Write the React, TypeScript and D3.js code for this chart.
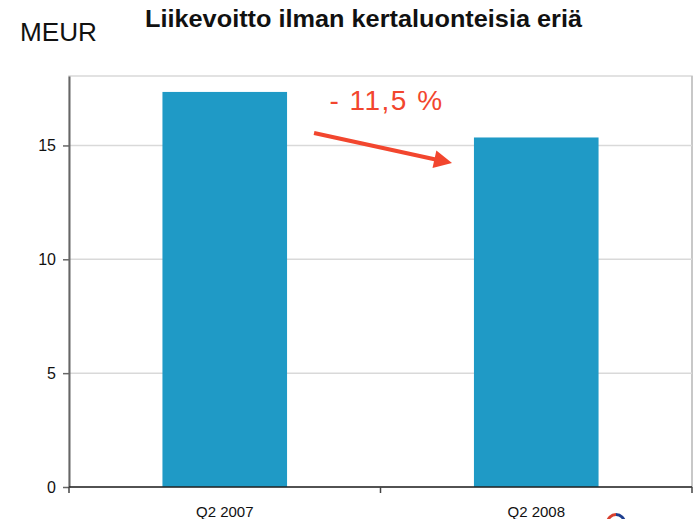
import React, { useEffect, useRef } from "react";
import * as d3 from "d3";

const categories = ["Q2 2007", "Q2 2008"];
const values = [17.35, 15.35];
const yTicks = [0, 5, 10, 15];
const changeLabel = "- 11,5 %";

const width = 697;
const height = 519;
const margin = { top: 76, right: 5, bottom: 32, left: 69 };
const barColor = "#1f9ac6";
const red = "#f2462e";

const App = () => {
  const chartRef = useRef<SVGGElement>(null);

  useEffect(() => {
    const svg = d3.select(chartRef.current);
    svg.selectAll("*").remove();

    const innerW = width - margin.left - margin.right;
    const innerH = height - margin.top - margin.bottom;

    const x = d3
      .scaleBand()
      .domain(categories)
      .range([0, innerW])
      .paddingInner(0.6)
      .paddingOuter(0.3);

    const y = d3.scaleLinear().domain([0, 18.05]).range([innerH, 0]);

    const g = svg
      .append("g")
      .attr("transform", `translate(${margin.left},${margin.top})`);

    // frame
    g.append("rect")
      .attr("width", innerW)
      .attr("height", innerH)
      .attr("fill", "none")
      .attr("stroke", "#d9d9d9")
      .attr("stroke-width", 1.5);
    g.append("line")
      .attr("x1", innerW)
      .attr("x2", innerW)
      .attr("y1", 0)
      .attr("y2", innerH)
      .attr("stroke", "#bfbfbf")
      .attr("stroke-width", 1.5);

    // gridlines
    g.selectAll(".grid")
      .data(yTicks.filter((t) => t > 0))
      .enter()
      .append("line")
      .attr("x1", 0)
      .attr("x2", innerW)
      .attr("y1", (d) => y(d))
      .attr("y2", (d) => y(d))
      .attr("stroke", "#d9d9d9")
      .attr("stroke-width", 1.5);

    // bars
    g.selectAll(".bar")
      .data(values)
      .enter()
      .append("rect")
      .attr("x", (_, i) => x(categories[i])!)
      .attr("width", x.bandwidth())
      .attr("y", (d) => y(d))
      .attr("height", (d) => innerH - y(d))
      .attr("fill", barColor);

    // y axis
    const yAxis = g
      .append("g")
      .call(
        d3.axisLeft(y).tickValues(yTicks).tickSize(6).tickSizeOuter(0).tickPadding(7)
      );
    yAxis.select(".domain").attr("stroke", "#666").attr("stroke-width", 2);
    yAxis.selectAll(".tick line").attr("stroke", "#666").attr("stroke-width", 1.5);
    yAxis
      .selectAll("text")
      .attr("font-family", "Liberation Sans, Arial, sans-serif")
      .attr("font-size", 16)
      .attr("fill", "#111");

    // x axis: ticks at category boundaries, labels centred
    const step = x.step();
    const xAxisG = g.append("g").attr("transform", `translate(0,${innerH})`);
    xAxisG
      .append("line")
      .attr("x1", 0)
      .attr("x2", innerW)
      .attr("stroke", "#222")
      .attr("stroke-width", 1.5);
    xAxisG
      .selectAll(".xt")
      .data(d3.range(categories.length + 1))
      .enter()
      .append("line")
      .attr("x1", (i) => Math.min(i * step, innerW))
      .attr("x2", (i) => Math.min(i * step, innerW))
      .attr("y1", 0)
      .attr("y2", 6)
      .attr("stroke", "#444")
      .attr("stroke-width", 1.5);
    xAxisG
      .selectAll(".xl")
      .data(categories)
      .enter()
      .append("text")
      .attr("x", (d) => x(d)! + x.bandwidth() / 2)
      .attr("y", 30)
      .attr("text-anchor", "middle")
      .attr("font-family", "Liberation Sans, Arial, sans-serif")
      .attr("font-size", 15)
      .attr("fill", "#111")
      .text((d) => d);

    // change annotation
    const x0 = x(categories[0])! + x.bandwidth();
    const x1 = x(categories[1])!;
    svg
      .append("text")
      .attr("x", margin.left + (x0 + x1) / 2 + 6)
      .attr("y", 110)
      .attr("text-anchor", "middle")
      .attr("font-family", "Liberation Sans, Arial, sans-serif")
      .attr("font-size", 28)
      .attr("letter-spacing", 1.5)
      .attr("fill", red)
      .text(changeLabel);

    const defs = svg.append("defs");
    defs
      .append("marker")
      .attr("id", "ah")
      .attr("viewBox", "0 0 10 10")
      .attr("refX", 2)
      .attr("refY", 5)
      .attr("markerWidth", 5)
      .attr("markerHeight", 4.5)
      .attr("orient", "auto")
      .append("path")
      .attr("d", "M0,0 L10,5 L0,10 Z")
      .attr("fill", red);

    svg
      .append("line")
      .attr("x1", margin.left + x0 + 27)
      .attr("y1", 133)
      .attr("x2", margin.left + x1 - 36)
      .attr("y2", 160)
      .attr("stroke", red)
      .attr("stroke-width", 4)
      .attr("marker-end", "url(#ah)");

    // partial logo in the corner
    const arc = d3.arc();
    const logo = svg.append("g").attr("transform", "translate(616,523)");
    logo
      .append("path")
      .attr(
        "d",
        arc({ innerRadius: 7, outerRadius: 10, startAngle: -Math.PI / 2, endAngle: 0 }) as string
      )
      .attr("fill", "#d8402f");
    logo
      .append("path")
      .attr(
        "d",
        arc({ innerRadius: 7, outerRadius: 10, startAngle: 0, endAngle: Math.PI / 2 }) as string
      )
      .attr("fill", "#1f3f8f");
  }, []);

  return (
    <svg
      width={width}
      height={height}
      style={{ position: "absolute", left: 0, top: 0, background: "#fff" }}
    >
      <text
        x={20}
        y={41}
        fontFamily="Liberation Sans, Arial, sans-serif"
        fontSize={26}
        textLength={77}
        lengthAdjust="spacingAndGlyphs"
        fill="#111"
      >
        MEUR
      </text>
      <text
        x={145}
        y={27}
        fontFamily="Liberation Sans, Arial, sans-serif"
        fontWeight="bold"
        fontSize={24}
        textLength={437}
        lengthAdjust="spacingAndGlyphs"
        fill="#111"
      >
        Liikevoitto ilman kertaluonteisia eriä
      </text>
      <g ref={chartRef} />
    </svg>
  );
};

export default App;
